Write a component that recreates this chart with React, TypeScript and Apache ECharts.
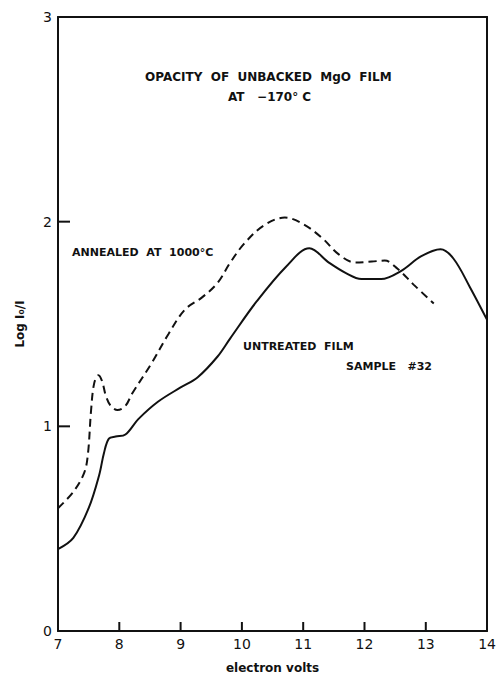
import React, { useEffect, useRef } from "react";
import * as echarts from "echarts";

const untreatedE = [7.0, 7.25, 7.5, 7.67, 7.75, 7.83, 7.94, 8.1, 8.31, 8.63, 9.0, 9.28, 9.6, 9.81, 10.24, 10.72, 11.1, 11.42, 11.69, 11.95, 12.27, 12.6, 12.92, 13.24, 13.45, 13.72, 14.0];
const untreatedV = [0.4, 0.455, 0.6, 0.76, 0.87, 0.94, 0.95, 0.96, 1.035, 1.12, 1.19, 1.24, 1.34, 1.43, 1.61, 1.78, 1.87, 1.8, 1.75, 1.72, 1.72, 1.76, 1.83, 1.865, 1.82, 1.68, 1.52];

const annealedE = [7.0, 7.25, 7.43, 7.49, 7.54, 7.59, 7.66, 7.72, 7.78, 7.86, 7.97, 8.1, 8.21, 8.53, 8.8, 9.07, 9.35, 9.6, 9.81, 10.03, 10.35, 10.7, 10.99, 11.31, 11.58, 11.85, 12.12, 12.33, 12.54, 12.81, 13.13];
const annealedV = [0.6, 0.68, 0.775, 0.87, 1.08, 1.21, 1.25, 1.22, 1.15, 1.1, 1.08, 1.1, 1.16, 1.31, 1.45, 1.57, 1.63, 1.7, 1.8, 1.89, 1.98, 2.02, 1.99, 1.92, 1.84, 1.8, 1.805, 1.81, 1.77, 1.69, 1.6];

const xTicks = [7, 8, 9, 10, 11, 12, 13, 14];
const yTicks = [0, 1, 2, 3];
const xInnerTicks = [8, 9, 10, 11, 12, 13];
const yInnerTicks = [1, 2];

const FONT = "DejaVu Sans";
const INK = "#111";

export default function App() {
  const ref = useRef<HTMLDivElement>(null);
  useEffect(() => {
    document.body.style.margin = "0";
    const chart = echarts.init(ref.current!, null, { renderer: "svg" });
    const txt = (x: number, y: number, s: string, size = 11) => ({
      type: "text",
      x,
      y,
      style: { text: s, fill: INK, font: `bold ${size}px ${FONT}`, textVerticalAlign: "middle" },
    });
    const frameAxis = {
      min: 0, max: 1, type: "value",
      axisLine: { show: true, onZero: false, lineStyle: { color: INK, width: 2 } },
      axisTick: { show: false }, axisLabel: { show: false }, splitLine: { show: false },
    };
    const texts = [
      txt(145, 77, "OPACITY  OF  UNBACKED  MgO  FILM", 12),
      txt(228, 97, "AT   −170° C", 12),
      txt(72, 252, "ANNEALED  AT  1000°C", 11),
      txt(243, 346, "UNTREATED  FILM", 11),
      txt(346, 366, "SAMPLE   #32", 11),
    ];
    chart.setOption({
      animation: false,
      backgroundColor: "#fff",
      grid: { left: 58, right: 6, top: 17, bottom: 42 },
      xAxis: [
        {
          type: "value",
          min: 7,
          max: 14,
          interval: 1,
          position: "bottom",
          name: "electron volts",
          nameLocation: "middle",
          nameGap: 31,
          nameTextStyle: { color: INK, fontSize: 12, fontFamily: FONT, fontWeight: "bold" },
          axisLine: { show: true, onZero: false, lineStyle: { color: INK, width: 2 } },
          axisTick: { show: false },
          axisLabel: { show: true, color: INK, fontSize: 14, fontFamily: FONT, margin: 6, customValues: xTicks },
          splitLine: { show: false },
        },
        { ...frameAxis, position: "top" },
      ],
      yAxis: [
        {
          type: "value",
          min: 0,
          max: 3,
          interval: 1,
          position: "left",
          name: "Log I₀/I",
          nameLocation: "middle",
          nameRotate: 90,
          nameGap: 32,
          nameTextStyle: { color: INK, fontSize: 12, fontFamily: FONT, fontWeight: "bold" },
          axisLine: { show: true, onZero: false, lineStyle: { color: INK, width: 2 } },
          axisTick: { show: false },
          axisLabel: { show: true, color: INK, fontSize: 14, fontFamily: FONT, margin: 6, customValues: yTicks },
          splitLine: { show: false },
        },
        { ...frameAxis, position: "right" },
      ],
      series: [
        {
          type: "line",
          name: "Untreated film",
          data: untreatedE.map((e, i) => [e, untreatedV[i]]),
          smooth: 0.35,
          showSymbol: false,
          lineStyle: { color: INK, width: 2 },
        },
        {
          type: "line",
          name: "Annealed at 1000°C",
          data: annealedE.map((e, i) => [e, annealedV[i]]),
          smooth: 0.35,
          showSymbol: false,
          lineStyle: { color: INK, width: 2, type: [8, 5] },
        },
      ],
      graphic: texts,
    });
    // Tick marks placed through the chart's own scales
    const tickEls: any[] = [];
    xInnerTicks.forEach((v) => {
      const p = chart.convertToPixel({ gridIndex: 0 }, [v, 0]) as number[];
      tickEls.push({
        type: "line",
        shape: { x1: p[0], y1: p[1], x2: p[0], y2: p[1] - 9 },
        style: { stroke: INK, lineWidth: 2 },
        z: 10,
      });
    });
    yInnerTicks.forEach((v) => {
      const p = chart.convertToPixel({ gridIndex: 0 }, [7, v]) as number[];
      tickEls.push({
        type: "line",
        shape: { x1: p[0], y1: p[1], x2: p[0] + 12, y2: p[1] },
        style: { stroke: INK, lineWidth: 2 },
        z: 10,
      });
    });
    chart.setOption({ graphic: [...texts, ...tickEls] });
    return () => chart.dispose();
  }, []);
  return <div ref={ref} style={{ position: "fixed", left: 0, top: 0, width: 499, height: 679 }} />;
}
